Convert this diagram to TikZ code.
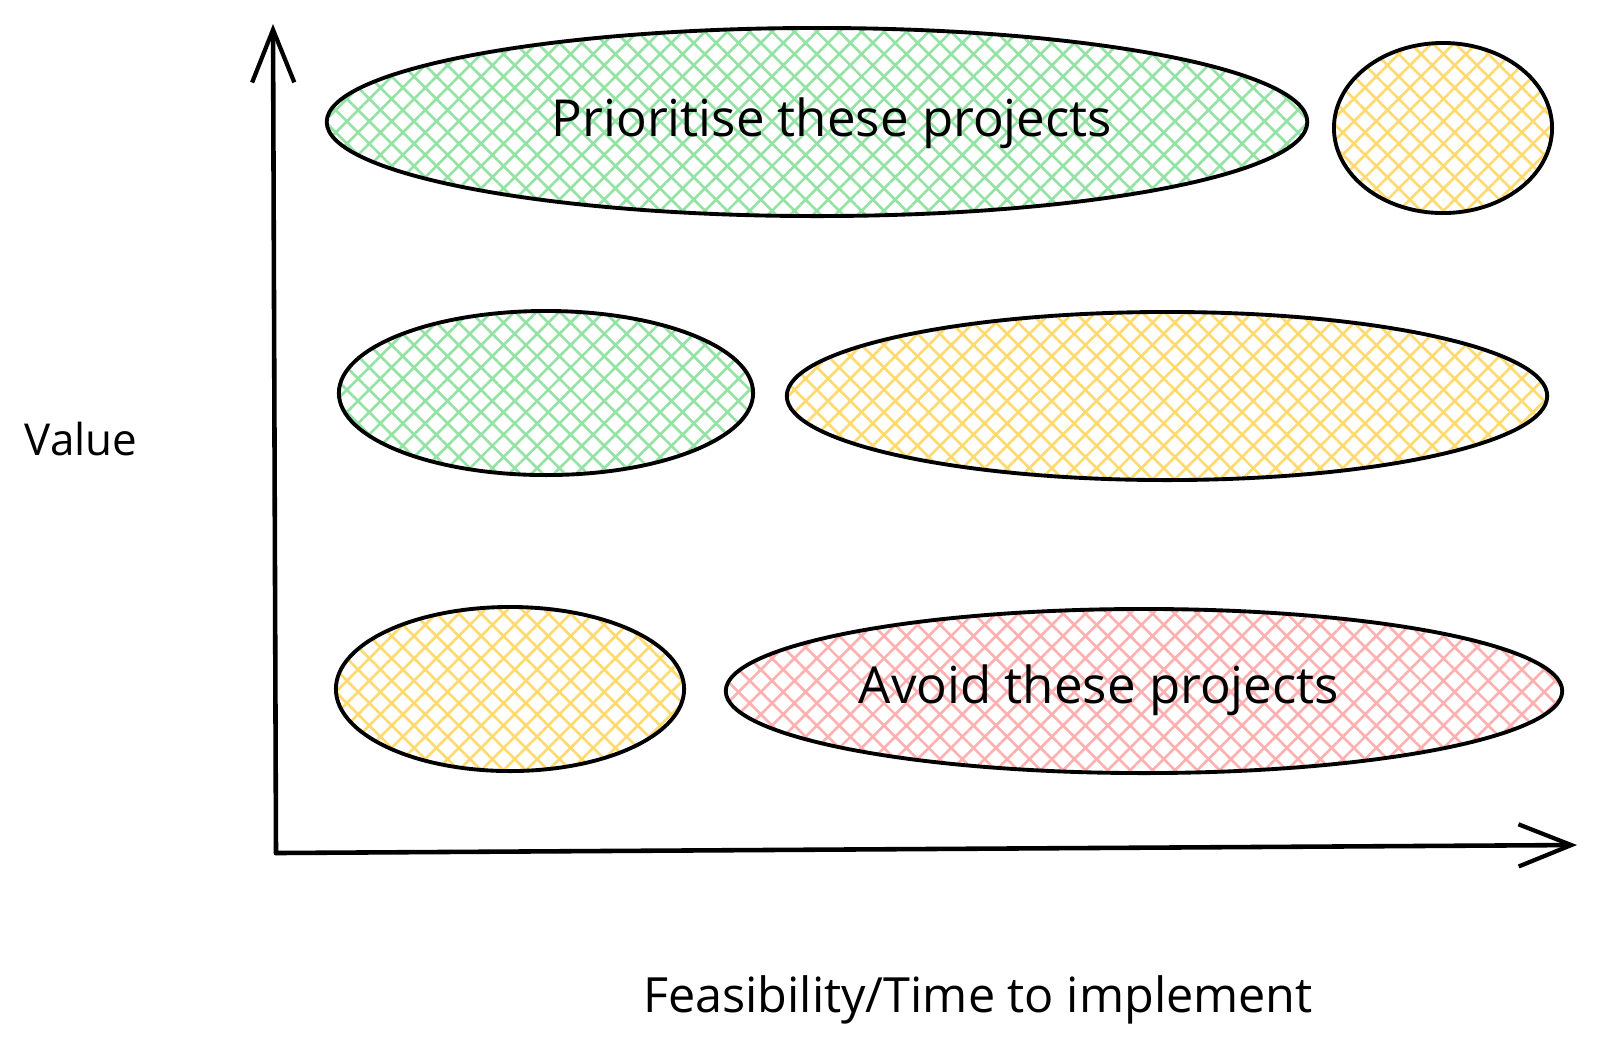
\documentclass[tikz,border=0pt]{standalone}
\usepackage{fontspec}
\setmainfont{Open Sans}
\usetikzlibrary{shapes.geometric,patterns.meta,arrows.meta}

\definecolor{hatchGreen}{HTML}{95E2A5}
\definecolor{hatchYellow}{HTML}{FFDA70}
\definecolor{hatchRed}{HTML}{FFB0B0}

\tikzset{
  zone/.style={ellipse, draw=black, line width=1.1pt, inner sep=0pt,
    pattern={Hatch[angle=45,distance=4.5pt,line width=0.75pt]}},
  greenZone/.style={zone, pattern color=hatchGreen},
  yellowZone/.style={zone, pattern color=hatchYellow},
  redZone/.style={zone, pattern color=hatchRed},
  axis/.style={line width=1.3pt, line cap=round,
    -{Straight Barb[length=15pt,width=12pt,line width=1.2pt]}},
  caption/.style={font=\fontsize{14.5}{17}\selectfont, inner sep=0pt}
}

\begin{document}
\begin{tikzpicture}[x=0.01cm, y=-0.01cm]
  \useasboundingbox (0,0) rectangle (1600,1050);

  % axes
  \coordinate (origin) at (276,853);
  \coordinate (valueEnd) at (273,24);
  \coordinate (timeEnd) at (1577,845);
  \draw[axis] (origin) -- (valueEnd);
  \draw[axis] (origin) -- (timeEnd);

  % zones
  \node[greenZone, minimum width=9.80cm, minimum height=1.88cm] (prioritiseZone) at (817,122) {};
  \node[yellowZone, minimum width=2.18cm, minimum height=1.70cm] (topRightZone) at (1443,128) {};
  \node[greenZone, minimum width=4.14cm, minimum height=1.64cm] (midLeftZone) at (546,393) {};
  \node[yellowZone, minimum width=7.60cm, minimum height=1.68cm] (midRightZone) at (1167,396) {};
  \node[yellowZone, minimum width=3.48cm, minimum height=1.64cm] (lowLeftZone) at (510,689) {};
  \node[redZone, minimum width=8.36cm, minimum height=1.64cm] (avoidZone) at (1144,691) {};

  % labels
  \node[caption] (prioritiseText) at (832,123) {Prioritise these projects};
  \node[caption] (avoidText) at (1099,690) {Avoid these projects};
  \node[caption, font=\fontsize{12.5}{15}\selectfont] (valueLabel) at (81,439) {Value};
  \node[caption, font=\fontsize{13.8}{16}\selectfont] (timeLabel) at (978,1000) {Feasibility/Time to implement};
\end{tikzpicture}
\end{document}
